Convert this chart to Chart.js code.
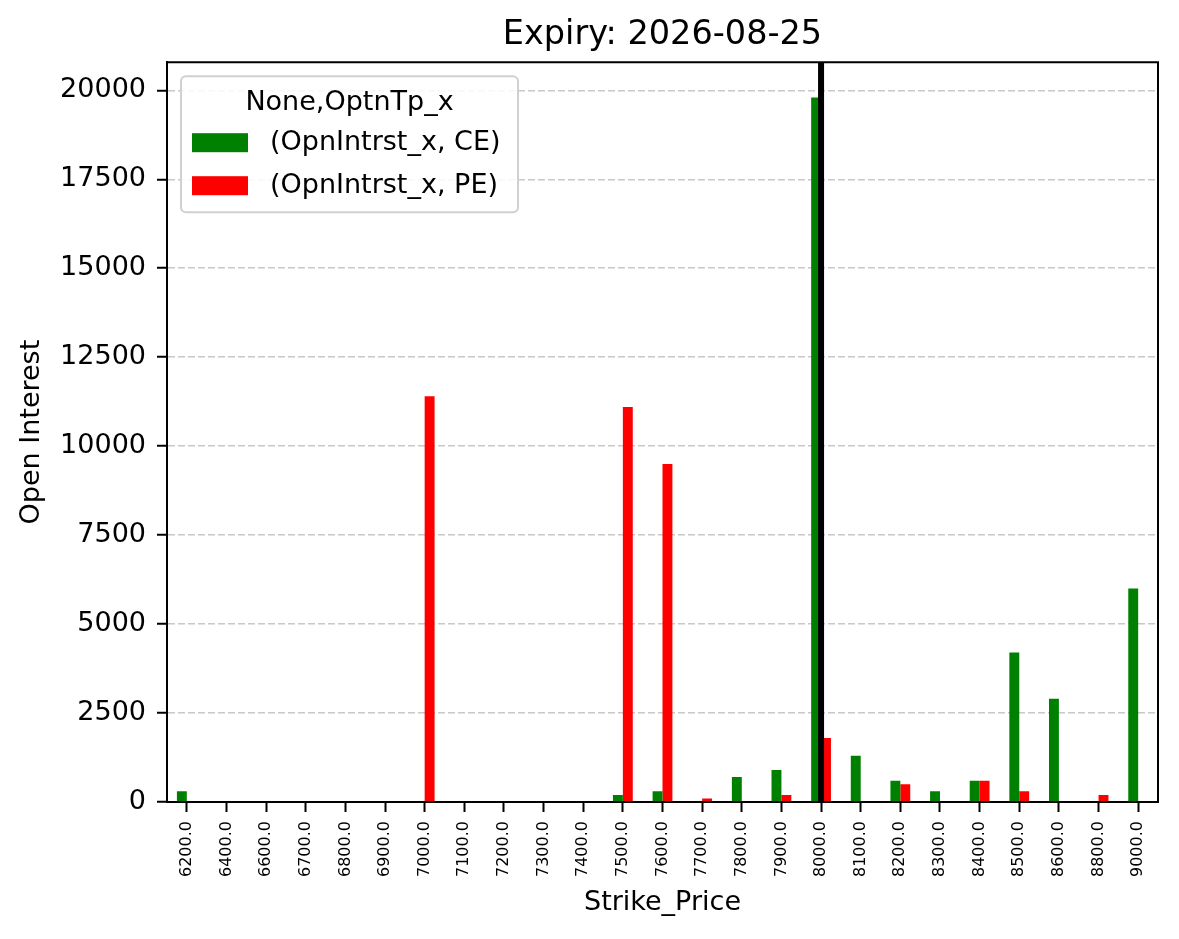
<!DOCTYPE html>
<html>
<head>
<meta charset="utf-8">
<script src="https://cdn.jsdelivr.net/npm/chart.js@4"></script>
<style>
  html, body { margin: 0; padding: 0; background: #ffffff; }
  #wrap { width: 1179px; height: 939px; position: relative; }
</style>
</head>
<body>
<div id="wrap"><canvas id="oiChart" width="1179" height="939"></canvas></div>
<script>
// Open interest per strike.
const STRIKES = [
    "6200.0", "6400.0", "6600.0", "6700.0", "6800.0", "6900.0", "7000.0", "7100.0", "7200.0",
    "7300.0", "7400.0", "7500.0", "7600.0", "7700.0", "7800.0", "7900.0", "8000.0", "8100.0",
    "8200.0", "8300.0", "8400.0", "8500.0", "8600.0", "8800.0", "9000.0",
];
const CE_OI = [300, 0, 0, 0, 0, 0, 0, 0, 0, 0, 0, 200, 300, 0, 700, 900, 19800, 1300, 600, 300, 600, 4200, 2900, 0, 6000];
const PE_OI = [0, 0, 0, 0, 0, 0, 11400, 0, 0, 0, 0, 11100, 9500, 100, 0, 200, 1800, 0, 500, 0, 600, 300, 0, 200, 0];
const SERIES_LABELS = ["(OpnIntrst_x, CE)", "(OpnIntrst_x, PE)"];
const LEGEND_TITLE = "None,OptnTp_x";
const SPOT_STRIKE = "8000.0";
const Y_TICKS = [0, 2500, 5000, 7500, 10000, 12500, 15000, 17500, 20000];
const Y_MAX = 20790; // matplotlib's 5% headroom over the 19800 peak

const FONT = "'DejaVu Sans', sans-serif";
const GRID_COLOR = "#c8c8c8";

// Top/right spines plus the thick black marker line at the spot strike.
const framePlugin = {
    id: "frame",
    afterDatasetsDraw(chart) {
        const { ctx, chartArea: a, scales } = chart;
        ctx.save();
        const x = scales.x.getPixelForValue(STRIKES.indexOf(SPOT_STRIKE));
        ctx.strokeStyle = "#000";
        ctx.lineWidth = 6;
        ctx.beginPath();
        ctx.moveTo(x, a.top);
        ctx.lineTo(x, a.bottom);
        ctx.stroke();

        ctx.lineWidth = 2;
        ctx.beginPath();
        ctx.moveTo(a.left, a.top);
        ctx.lineTo(a.right, a.top);
        ctx.lineTo(a.right, a.bottom);
        ctx.stroke();
        ctx.restore();
    },
};

// matplotlib-style legend box in the upper-left corner of the axes.
const legendBoxPlugin = {
    id: "legendBox",
    afterDraw(chart) {
        const { ctx, chartArea: a } = chart;
        const left = a.left + 14, top = a.top + 14, w = 337, h = 136;
        ctx.save();
        ctx.fillStyle = "rgba(255,255,255,0.85)";
        ctx.strokeStyle = "#d0d0d0";
        ctx.lineWidth = 2;
        ctx.beginPath();
        ctx.roundRect(left, top, w, h, 5);
        ctx.fill();
        ctx.stroke();

        ctx.fillStyle = "#000";
        ctx.font = `27px ${FONT}`;
        ctx.textBaseline = "middle";
        ctx.textAlign = "center";
        ctx.fillText(LEGEND_TITLE, left + w / 2, top + 27);
        ctx.textAlign = "left";
        chart.data.datasets.forEach((ds, i) => {
            const cy = top + 66 + i * 43;
            ctx.fillStyle = ds.backgroundColor;
            ctx.fillRect(left + 11, cy - 9, 56, 19);
            ctx.fillStyle = "#000";
            ctx.fillText(ds.label, left + 89, cy + 1);
        });
        ctx.restore();
    },
};

new Chart(document.getElementById("oiChart"), {
    type: "bar",
    data: {
        labels: STRIKES,
        datasets: [
            { label: SERIES_LABELS[0], data: CE_OI, backgroundColor: "#008000" },
            { label: SERIES_LABELS[1], data: PE_OI, backgroundColor: "#ff0000" },
        ],
    },
    options: {
        responsive: false,
        animation: false,
        devicePixelRatio: 1,
        datasets: { bar: { categoryPercentage: 0.5, barPercentage: 1.0, borderWidth: 0 } },
        layout: { padding: { left: 0, right: 21, top: 0, bottom: 0 } },
        scales: {
            x: {
                grid: {
                    display: true,
                    offset: false,
                    drawOnChartArea: false,
                    tickLength: 10,
                    tickColor: "#000",
                    tickWidth: 2,
                },
                border: { color: "#000", width: 2 },
                ticks: {
                    autoSkip: false,
                    minRotation: 90,
                    maxRotation: 90,
                    padding: 9,
                    color: "#000",
                    font: { family: FONT, size: 16 },
                },
                title: {
                    display: true,
                    text: "Strike_Price",
                    color: "#000",
                    font: { family: FONT, size: 27 },
                    padding: { top: 0, bottom: 20 },
                },
                afterFit(scale) { scale.height = 137; },
            },
            y: {
                min: 0,
                max: Y_MAX,
                grid: {
                    color: GRID_COLOR,
                    lineWidth: 1.5,
                    tickLength: 10,
                    tickColor: "#000",
                    tickWidth: 2,
                    tickBorderDash: [],
                },
                // In Chart.js v4 border.dash styles the grid lines; the axis line stays solid.
                border: { color: "#000", width: 2, dash: [7, 3] },
                ticks: {
                    padding: 11,
                    color: "#000",
                    font: { family: FONT, size: 27 },
                    callback: (value) => String(value),
                },
                afterBuildTicks(scale) {
                    scale.ticks = Y_TICKS.map((v) => ({ value: v }));
                },
                title: {
                    display: true,
                    text: "Open Interest",
                    color: "#000",
                    font: { family: FONT, size: 27 },
                    padding: { top: 16, bottom: 0 },
                },
                afterFit(scale) { scale.width = 167; },
            },
        },
        plugins: {
            legend: { display: false },
            tooltip: { enabled: false },
            title: {
                display: true,
                fullSize: false,
                text: "Expiry: 2026-08-25",
                color: "#000",
                font: { family: FONT, size: 33.5, weight: "normal" },
                padding: { top: 15, bottom: 7 },
            },
        },
    },
    plugins: [framePlugin, legendBoxPlugin],
});
</script>
</body>
</html>
